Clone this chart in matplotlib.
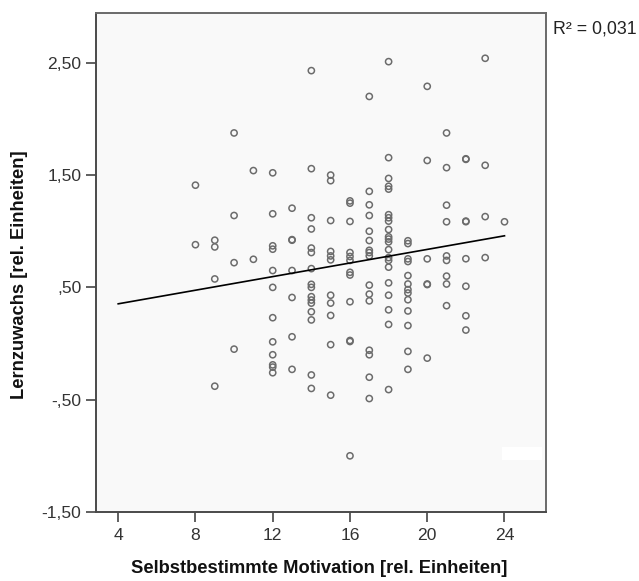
import numpy as np
import matplotlib
matplotlib.use("Agg")
import matplotlib.pyplot as plt
from matplotlib.patches import Rectangle

plt.rcParams['font.family'] = ['Liberation Sans', 'DejaVu Sans']

# motivation score (x) and learning gain (y), one line per score column
motivation = [
    8, 8,
    9, 9, 9, 9,
    10, 10, 10, 10,
    11, 11,
    12, 12, 12, 12, 12, 12, 12, 12, 12, 12, 12, 12,
    13, 13, 13, 13, 13, 13, 13,
    14, 14, 14, 14, 14, 14, 14, 14, 14, 14, 14, 14, 14, 14, 14, 14,
    15, 15, 15, 15, 15, 15, 15, 15, 15, 15, 15,
    16, 16, 16, 16, 16, 16, 16, 16, 16, 16, 16, 16,
    17, 17, 17, 17, 17, 17, 17, 17, 17, 17, 17, 17, 17, 17, 17, 17,
    18, 18, 18, 18, 18, 18, 18, 18, 18, 18, 18, 18, 18, 18, 18, 18, 18, 18, 18, 18, 18,
    19, 19, 19, 19, 19, 19, 19, 19, 19, 19, 19, 19, 19,
    20, 20, 20, 20, 20, 20,
    21, 21, 21, 21, 21, 21, 21, 21, 21,
    22, 22, 22, 22, 22, 22, 22, 22,
    23, 23, 23, 23,
    24,
]
lernzuwachs = [
    1.41, 0.88,
    0.92, 0.86, 0.575, -0.38,
    1.875, 1.14, 0.72, -0.05,
    1.54, 0.75,
    1.52, 1.155, 0.87, 0.84, 0.65, 0.50, 0.23, 0.015, -0.10, -0.19, -0.21, -0.26,
    1.205, 0.925, 0.92, 0.65, 0.41, 0.06, -0.23,
    2.43, 1.557, 1.12, 1.02, 0.85, 0.81, 0.667, 0.527, 0.50, 0.417, 0.387, 0.36, 0.283, 0.21, -0.28, -0.40,
    1.50, 1.45, 1.095, 0.82, 0.78, 0.745, 0.43, 0.36, 0.25, -0.01, -0.46,
    1.27, 1.25, 1.087, 0.81, 0.775, 0.74, 0.634, 0.61, 0.372, 0.027, 0.018, -1.0,
    2.2, 1.355, 1.235, 1.14, 1.0, 0.917, 0.83, 0.81, 0.78, 0.52, 0.44, 0.38, -0.06, -0.10, -0.30, -0.49,
    2.51, 1.655, 1.47, 1.40, 1.375, 1.147, 1.12, 1.09, 1.015, 0.95, 0.93, 0.905, 0.836, 0.765, 0.74, 0.68, 0.54, 0.43, 0.30, 0.17, -0.41,
    0.915, 0.89, 0.754, 0.73, 0.605, 0.53, 0.48, 0.45, 0.39, 0.29, 0.16, -0.07, -0.23,
    2.29, 1.63, 0.754, 0.53, 0.525, -0.13,
    1.875, 1.566, 1.232, 1.084, 0.78, 0.74, 0.60, 0.53, 0.337,
    1.645, 1.64, 1.09, 1.085, 0.755, 0.51, 0.247, 0.12,
    2.54, 1.587, 1.13, 0.765,
    1.084,
]

x_ticks = [4, 8, 12, 16, 20, 24]
y_ticks = [-1.5, -0.5, 0.5, 1.5, 2.5]
y_tick_labels = ["-1,50", "-,50", ",50", "1,50", "2,50"]
fit_range = [4, 24]
r2_label = "R\u00b2 = 0,031"

fig = plt.figure(figsize=(6.39, 5.81), dpi=100)
ax = fig.add_axes([0.1502, 0.1188, 0.7043, 0.8588])
ax.set_facecolor("#f9f9f9")

ax.scatter(motivation, lernzuwachs, s=20, facecolors="none",
           edgecolors="#6c6c6c", linewidths=1.1, zorder=3)

# linear fit line
slope, intercept = np.polyfit(motivation, lernzuwachs, 1)
fx = np.array(fit_range, dtype=float)
ax.plot(fx, intercept + slope * fx, color="black", linewidth=1.2, zorder=4)

# faint white patch as in the original export
ax.add_patch(Rectangle((0.902, 0.105), 0.09, 0.025, transform=ax.transAxes,
                       facecolor="white", edgecolor="none", zorder=2))

ax.set_xlim(2.85, 26.15)
ax.set_ylim(-1.5, 2.943)
ax.set_xticks(x_ticks)
ax.set_yticks(y_ticks)
ax.set_yticklabels(y_tick_labels)
ax.tick_params(axis="both", length=7.5, width=1.2, color="#444444",
               labelsize=12.6, labelcolor="#333333", direction="out")
ax.tick_params(axis="x", pad=4)
ax.tick_params(axis="y", pad=3)

for side in ["left", "bottom"]:
    ax.spines[side].set_color("#4a4a4a")
    ax.spines[side].set_linewidth(1.4)
for side in ["top", "right"]:
    ax.spines[side].set_color("#6a6a6a")
    ax.spines[side].set_linewidth(1.4)

ax.set_xlabel("Selbstbestimmte Motivation [rel. Einheiten]", fontsize=13.2,
              fontweight="bold", color="#111111")
ax.xaxis.set_label_coords(0.497, -0.097)
ax.set_ylabel("Lernzuwachs [rel. Einheiten]", fontsize=13.2,
              fontweight="bold", color="#111111")
ax.yaxis.set_label_coords(-0.150, 0.475)

fig.text(0.865, 0.950, r2_label, fontsize=12.8, color="#222222", va="center")

fig.savefig("out.png", dpi=100)
